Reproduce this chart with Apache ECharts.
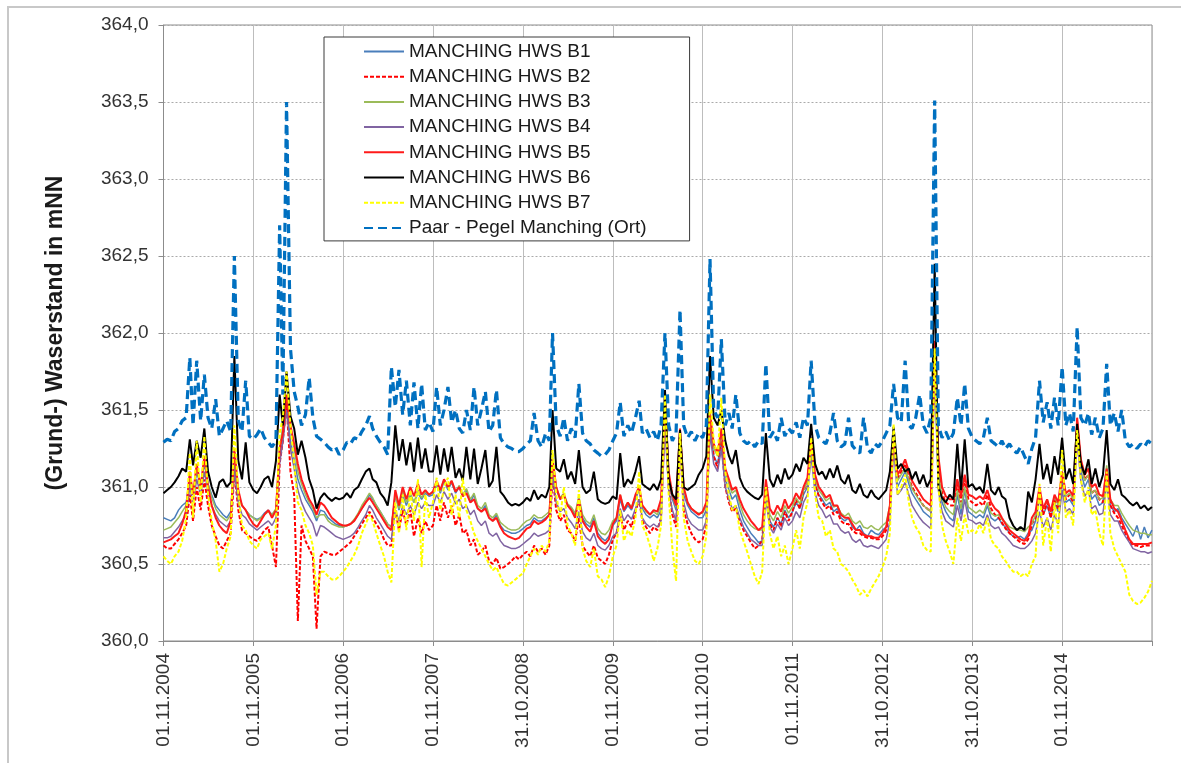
<!DOCTYPE html>
<html><head><meta charset="utf-8">
<script src="https://cdn.jsdelivr.net/npm/echarts@6/dist/echarts.min.js"></script>
<style>html,body{margin:0;padding:0;background:#fff}#c{width:1181px;height:763px}</style>
</head><body><div id="c"></div>
<script>
// x tick labels (one per axis tick, every 365.2 days from 01.11.2004)
const tickLabels = ['01.11.2004','01.11.2005','01.11.2006','01.11.2007','31.10.2008','01.11.2009','01.11.2010','01.11.2011','31.10.2012','31.10.2013','01.11.2014'];
const seriesNames = ['MANCHING HWS B1','MANCHING HWS B2','MANCHING HWS B3','MANCHING HWS B4','MANCHING HWS B5','MANCHING HWS B6','MANCHING HWS B7','Paar - Pegel Manching (Ort)'];

// sampling dates: 1st and 16th of every month, 01.11.2004 .. 01.11.2015
const sampleDates = [];
for (let i = 0; i < 265; i++) { sampleDates.push(Date.UTC(2004, 10 + Math.floor(i / 2), i % 2 ? 16 : 1)); }

// values (mNN), one per sample date; rows = hydrological years Nov..Oct
const b1 = [
360.80,360.79,360.78,360.80,360.85,360.88,360.90,361.05,360.95,361.10,361.00,361.15,361.02,360.95,360.88,360.85,360.82,360.80,360.84,361.15,360.95,360.88,360.85,360.82,
360.80,360.79,360.80,360.83,360.85,360.82,360.85,361.20,361.30,361.55,361.30,361.18,361.05,360.98,360.92,360.88,360.84,360.78,360.85,360.84,360.80,360.78,360.76,360.75,
360.74,360.75,360.76,360.78,360.82,360.86,360.90,360.95,360.92,360.88,360.84,360.80,360.76,360.74,360.95,360.85,360.95,360.88,360.95,360.90,360.96,360.92,360.96,360.94,
360.95,361.02,360.96,361.04,360.98,361.03,360.96,361.00,360.94,360.98,360.90,360.95,360.86,360.84,360.88,360.80,360.78,360.82,360.75,360.72,360.71,360.70,360.70,360.71,
360.73,360.75,360.76,360.80,360.78,360.78,360.80,360.82,361.15,360.98,360.92,360.95,360.88,360.86,360.82,360.92,360.80,360.76,360.74,360.80,360.70,360.67,360.65,360.68,
360.75,360.78,360.92,360.84,360.88,360.85,360.92,360.98,360.86,360.82,360.80,360.82,360.80,360.85,361.45,361.05,360.92,360.85,361.30,360.95,360.88,360.84,360.82,360.80,
360.80,360.85,361.40,361.20,361.15,361.30,361.05,360.98,360.92,360.95,360.85,360.78,360.74,360.70,360.67,360.64,360.65,360.95,360.78,360.74,360.80,360.76,360.85,360.80,
360.84,360.90,360.86,360.95,361.00,361.25,361.02,360.95,360.92,360.88,360.90,360.84,360.86,360.80,360.78,360.80,360.74,360.72,360.75,360.70,360.68,360.72,360.70,360.69,
360.72,360.74,360.85,361.30,361.00,361.05,361.10,361.02,360.96,360.92,360.88,360.84,360.82,360.80,361.80,361.05,360.90,360.84,360.80,360.78,360.95,360.82,360.98,360.84,
360.82,360.80,360.82,360.80,360.88,360.80,360.78,360.80,360.76,360.74,360.70,360.68,360.67,360.68,360.66,360.70,360.72,360.78,360.92,360.82,360.88,360.80,360.90,360.84,
361.05,360.90,360.92,360.88,361.38,361.10,361.00,361.05,360.92,360.95,360.88,360.90,361.10,360.88,360.84,360.86,360.80,360.76,360.72,360.68,360.75,360.66,360.74,360.67,360.72];

const b2 = [
360.62,360.60,360.60,360.63,360.66,360.70,360.75,360.95,360.78,361.00,360.85,361.05,360.88,360.75,360.68,360.62,360.60,360.65,360.70,361.10,360.85,360.72,360.70,360.68,
360.66,360.65,360.68,360.72,360.74,360.62,360.48,361.15,361.30,361.55,361.10,360.95,360.13,360.75,360.65,360.60,360.55,360.08,360.55,360.58,360.57,360.56,360.56,360.58,
360.60,360.62,360.64,360.68,360.72,360.76,360.80,360.84,360.80,360.76,360.72,360.66,360.62,360.62,360.85,360.72,360.85,360.75,360.85,360.68,360.80,360.70,360.78,360.72,
360.75,360.88,360.78,360.90,360.80,360.88,360.75,360.82,360.70,360.72,360.62,360.66,360.56,360.58,360.62,360.52,360.50,360.54,360.47,360.48,360.50,360.52,360.55,360.53,
360.56,360.58,360.55,360.62,360.58,360.60,360.56,360.62,361.08,360.85,360.78,360.82,360.72,360.70,360.65,360.80,360.62,360.58,360.55,360.62,360.54,360.52,360.50,360.56,
360.66,360.70,360.82,360.72,360.78,360.74,360.84,360.92,360.78,360.74,360.70,360.74,360.72,360.80,361.50,361.00,360.82,360.74,361.30,360.85,360.76,360.70,360.66,360.64,
360.66,360.75,361.45,361.20,361.12,361.30,361.00,360.90,360.84,360.86,360.78,360.72,360.68,360.64,360.60,360.62,360.65,360.98,360.76,360.72,360.80,360.74,360.84,360.78,
360.84,360.92,360.86,360.98,361.02,361.30,361.02,360.94,360.90,360.86,360.88,360.82,360.84,360.78,360.76,360.76,360.72,360.70,360.70,360.68,360.67,360.67,360.66,360.66,
360.68,360.72,360.85,361.32,361.05,361.10,361.15,361.06,361.00,360.96,360.92,360.88,360.86,360.84,361.90,361.15,360.96,360.90,360.88,360.88,361.02,360.90,361.05,360.92,
360.90,360.88,360.90,360.88,360.95,360.86,360.82,360.80,360.77,360.73,360.70,360.68,360.66,360.64,360.63,360.66,360.76,360.80,360.96,360.82,360.90,360.80,360.92,360.86,
361.06,360.92,360.95,360.90,361.42,361.15,361.05,361.08,360.96,360.98,360.92,360.90,361.08,360.88,360.83,360.80,360.75,360.70,360.65,360.62,360.62,360.61,360.62,360.62,360.62];

const b3 = [
360.72,360.73,360.74,360.77,360.80,360.84,360.88,361.05,360.95,361.12,361.00,361.18,361.02,360.93,360.86,360.82,360.80,360.78,360.82,361.20,360.96,360.88,360.85,360.82,
360.80,360.78,360.80,360.82,360.84,360.82,360.86,361.25,361.40,361.70,361.38,361.25,361.10,361.02,360.95,360.90,360.86,360.80,360.82,360.82,360.78,360.76,360.75,360.74,
360.74,360.75,360.76,360.79,360.83,360.88,360.92,360.96,360.93,360.88,360.84,360.80,360.76,360.74,360.95,360.86,360.98,360.90,360.96,360.90,360.98,360.93,360.97,360.95,
360.96,361.03,360.97,361.05,360.99,361.04,360.97,361.01,360.95,360.99,360.92,360.96,360.88,360.86,360.90,360.82,360.80,360.83,360.77,360.75,360.73,360.72,360.72,360.73,
360.76,360.78,360.79,360.82,360.80,360.80,360.82,360.84,361.20,361.00,360.93,360.96,360.89,360.87,360.83,360.94,360.82,360.78,360.76,360.82,360.73,360.70,360.69,360.72,
360.78,360.80,360.95,360.86,360.90,360.87,360.94,361.00,360.88,360.84,360.82,360.84,360.82,360.88,361.50,361.08,360.94,360.87,361.35,360.98,360.90,360.86,360.84,360.83,
360.83,360.88,361.45,361.25,361.20,361.35,361.10,361.02,360.96,360.98,360.89,360.82,360.78,360.75,360.73,360.72,360.72,361.00,360.82,360.78,360.84,360.80,360.88,360.83,
360.87,360.93,360.89,360.98,361.03,361.30,361.05,360.98,360.95,360.91,360.93,360.87,360.88,360.83,360.81,360.83,360.78,360.76,360.78,360.74,360.73,360.75,360.73,360.72,
360.75,360.77,360.88,361.33,361.04,361.08,361.12,361.05,360.99,360.95,360.91,360.88,360.86,360.84,361.85,361.10,360.93,360.87,360.84,360.82,360.98,360.86,361.00,360.87,
360.85,360.83,360.85,360.83,360.90,360.83,360.81,360.82,360.79,360.77,360.74,360.73,360.72,360.72,360.71,360.74,360.76,360.82,360.96,360.86,360.92,360.84,360.94,360.88,
361.10,360.94,360.96,360.92,361.42,361.15,361.04,361.08,360.96,360.98,360.92,360.93,361.14,360.92,360.88,360.88,360.83,360.79,360.75,360.72,360.71,360.70,360.70,360.69,360.69];

const b4 = [
360.67,360.67,360.68,360.71,360.74,360.78,360.82,361.00,360.90,361.05,360.95,361.10,360.97,360.88,360.82,360.78,360.76,360.74,360.78,361.10,360.90,360.82,360.80,360.76,
360.74,360.72,360.74,360.76,360.78,360.75,360.80,361.15,361.30,361.50,361.25,361.12,360.98,360.90,360.84,360.80,360.76,360.68,360.75,360.74,360.72,360.70,360.68,360.67,
360.66,360.67,360.68,360.70,360.74,360.78,360.82,360.88,360.85,360.80,360.76,360.72,360.68,360.66,360.85,360.78,360.88,360.82,360.88,360.82,360.90,360.86,360.90,360.88,
360.88,360.95,360.90,360.97,360.92,360.96,360.89,360.92,360.86,360.88,360.82,360.85,360.78,360.75,360.78,360.70,360.68,360.70,360.65,360.62,360.61,360.60,360.60,360.61,
360.63,360.65,360.67,360.70,360.68,360.69,360.70,360.72,361.08,360.90,360.84,360.86,360.80,360.77,360.73,360.84,360.71,360.67,360.65,360.70,360.62,360.60,360.59,360.62,
360.68,360.70,360.86,360.78,360.82,360.79,360.86,360.92,360.80,360.76,360.74,360.76,360.74,360.78,361.38,360.98,360.85,360.78,361.25,360.90,360.80,360.76,360.74,360.72,
360.72,360.78,361.35,361.15,361.10,361.25,361.00,360.92,360.86,360.88,360.80,360.74,360.70,360.66,360.64,360.62,360.62,360.92,360.74,360.70,360.76,360.72,360.80,360.75,
360.78,360.84,360.80,360.90,360.95,361.20,360.96,360.88,360.85,360.80,360.82,360.76,360.76,360.72,360.70,360.71,360.66,360.64,360.66,360.62,360.61,360.62,360.61,360.60,
360.63,360.66,360.78,361.25,360.95,360.98,361.03,360.95,360.88,360.84,360.80,360.77,360.75,360.73,361.75,360.98,360.84,360.78,360.76,360.74,360.88,360.78,360.92,360.79,
360.78,360.76,360.77,360.75,360.82,360.75,360.73,360.74,360.70,360.68,360.65,360.62,360.61,360.60,360.60,360.62,360.65,360.70,360.84,360.74,360.80,360.72,360.82,360.76,
360.98,360.84,360.86,360.82,361.30,361.04,360.94,360.98,360.86,360.88,360.82,360.83,361.02,360.82,360.78,360.78,360.72,360.68,360.64,360.60,360.59,360.58,360.58,360.57,360.58];

const b5 = [
360.64,360.65,360.66,360.68,360.70,360.76,360.85,361.10,360.95,361.15,361.00,361.20,361.00,360.88,360.80,360.75,360.72,360.70,360.78,361.25,360.98,360.88,360.85,360.80,
360.76,360.74,360.78,360.82,360.85,360.80,360.85,361.25,361.35,361.60,361.40,361.28,361.15,361.05,360.98,360.92,360.88,360.82,360.90,360.88,360.84,360.80,360.78,360.76,
360.75,360.75,360.76,360.78,360.82,360.86,360.90,360.93,360.90,360.86,360.82,360.78,360.74,360.72,360.98,360.88,361.00,360.92,361.00,360.94,361.02,360.95,360.98,360.95,
360.97,361.04,360.98,361.05,361.00,361.04,360.97,361.00,360.94,360.96,360.90,360.92,360.86,360.84,360.86,360.80,360.78,360.80,360.74,360.70,360.68,360.67,360.66,360.67,
360.70,360.73,360.74,360.78,360.76,360.77,360.79,360.82,361.18,361.00,360.92,360.95,360.88,360.85,360.80,360.92,360.78,360.74,360.71,360.78,360.68,360.65,360.63,360.66,
360.76,360.80,360.95,360.85,360.90,360.86,360.95,361.00,360.88,360.85,360.82,360.85,360.84,360.92,361.55,361.10,360.95,360.88,361.38,361.00,360.90,360.86,360.84,360.82,
360.84,360.90,361.48,361.28,361.22,361.38,361.12,361.05,360.98,361.00,360.92,360.86,360.82,360.78,360.75,360.72,360.74,361.05,360.86,360.82,360.88,360.84,360.92,360.86,
360.90,360.96,360.92,361.00,361.06,361.32,361.08,361.00,360.97,360.93,360.95,360.88,360.88,360.82,360.80,360.80,360.76,360.72,360.72,360.69,360.68,360.68,360.67,360.67,
360.70,360.74,360.88,361.35,361.08,361.12,361.18,361.10,361.04,361.00,360.96,360.92,360.90,360.88,361.95,361.20,361.00,360.94,360.92,360.92,361.05,360.94,361.08,360.95,
360.94,360.92,360.94,360.92,360.98,360.90,360.86,360.84,360.80,360.76,360.72,360.70,360.68,360.66,360.65,360.68,360.80,360.84,361.00,360.86,360.92,360.84,360.95,360.90,
361.10,360.96,360.98,360.94,361.45,361.18,361.08,361.12,361.00,361.02,360.95,360.94,361.12,360.92,360.86,360.84,360.78,360.72,360.66,360.63,360.63,360.63,360.63,360.63,360.64];

const b6 = [
360.96,360.98,361.00,361.03,361.07,361.12,361.10,361.31,361.14,361.30,361.19,361.38,361.10,361.00,360.93,361.03,361.05,361.00,361.03,361.85,361.17,361.05,361.29,361.03,
360.98,360.96,361.00,361.05,361.07,361.00,361.17,361.60,361.40,361.75,361.46,361.38,361.21,361.30,361.19,361.05,360.98,360.86,360.93,360.96,360.93,360.91,360.93,360.92,
360.93,360.96,360.93,360.98,361.00,361.05,361.10,361.12,361.05,361.03,360.96,360.93,360.88,361.03,361.40,361.17,361.31,361.14,361.29,361.10,361.32,361.12,361.25,361.10,
361.10,361.27,361.08,361.25,361.10,361.26,361.06,361.12,361.04,361.26,361.05,361.25,361.02,361.12,361.24,361.00,361.04,361.26,360.97,360.94,360.90,360.88,360.89,360.88,
360.90,360.93,360.91,360.98,360.92,360.95,360.93,361.00,361.50,361.12,361.10,361.18,361.05,361.10,361.02,361.24,361.00,360.96,360.98,361.10,360.92,360.90,360.89,360.90,
360.94,360.92,361.22,361.00,361.05,361.02,361.10,361.20,361.02,361.00,360.98,361.02,360.98,361.05,361.63,361.05,360.95,360.92,361.37,361.00,360.98,361.00,361.02,361.08,
361.12,361.20,361.85,361.45,361.40,361.50,361.30,361.20,361.15,361.24,361.06,361.00,360.97,360.95,360.93,360.92,360.95,361.35,361.05,361.00,361.08,361.02,361.12,361.05,
361.08,361.15,361.10,361.19,361.15,361.41,361.15,361.08,361.10,361.05,361.12,361.06,361.14,361.05,361.02,361.08,360.98,360.96,361.02,360.95,360.93,360.98,360.94,360.92,
360.95,360.98,361.10,361.39,361.12,361.15,361.10,361.12,361.05,361.10,361.02,361.08,361.00,361.05,362.45,361.00,360.93,360.90,360.95,360.92,361.28,360.98,361.31,361.00,
361.02,360.98,361.00,360.96,361.15,360.98,360.95,361.00,360.94,360.92,360.80,360.75,360.72,360.74,360.72,360.97,360.90,361.05,361.28,361.05,361.15,361.02,361.20,361.08,
361.32,361.05,361.12,361.02,361.41,361.15,361.08,361.18,361.02,361.12,361.00,361.08,361.37,361.02,360.98,361.05,360.95,360.93,360.90,360.88,360.90,360.86,360.88,360.85,360.87];

const b7 = [
360.55,360.52,360.50,360.55,360.58,360.65,360.80,361.22,360.80,361.30,360.90,361.33,360.95,360.78,360.65,360.45,360.50,360.60,360.68,361.40,360.95,360.75,360.72,360.65,
360.62,360.60,360.66,360.68,360.70,360.60,360.75,361.35,361.45,361.75,361.40,361.15,360.90,360.85,360.75,360.70,360.62,360.30,360.45,360.45,360.42,360.40,360.40,360.42,
360.45,360.48,360.52,360.56,360.62,360.70,360.76,360.82,360.78,360.70,360.62,360.55,360.45,360.38,360.90,360.70,360.95,360.72,360.98,360.78,361.05,360.48,360.95,360.80,
360.90,361.06,360.85,361.00,361.06,360.82,360.95,360.80,361.06,360.85,360.78,360.70,360.65,360.60,360.55,360.50,360.46,360.48,360.42,360.37,360.36,360.38,360.40,360.42,
360.44,360.50,360.55,360.60,360.56,360.62,360.58,360.65,361.24,360.95,360.80,361.00,360.75,360.70,360.62,360.98,360.60,360.52,360.48,360.60,360.42,360.40,360.35,360.42,
360.55,360.62,360.85,360.65,360.72,360.68,360.80,361.10,360.75,360.70,360.62,360.52,360.60,360.75,361.60,360.95,360.60,360.39,361.35,360.80,360.65,360.58,360.52,360.50,
360.55,360.68,361.60,361.30,361.20,361.58,361.10,360.95,360.85,360.88,360.72,360.65,360.58,360.50,360.42,360.37,360.45,361.00,360.70,360.60,360.68,360.55,360.62,360.50,
360.60,360.72,360.60,360.80,360.90,361.32,360.95,360.80,360.78,360.68,360.72,360.60,360.58,360.50,360.48,360.45,360.40,360.36,360.30,360.33,360.29,360.34,360.38,360.42,
360.48,360.55,360.70,361.41,360.95,361.00,361.08,360.90,360.80,360.74,360.70,360.62,360.59,360.58,361.90,361.00,360.75,360.65,360.58,360.50,360.80,360.65,360.82,360.70,
360.72,360.70,360.76,360.70,360.80,360.66,360.62,360.60,360.55,360.52,360.48,360.45,360.45,360.42,360.44,360.42,360.50,360.55,361.02,360.62,360.80,360.58,360.90,360.70,
361.24,360.80,360.85,360.75,361.37,361.05,360.90,361.00,360.82,360.85,360.70,360.62,361.10,360.70,360.60,360.55,360.50,360.45,360.30,360.26,360.24,360.25,360.28,360.32,360.39];

const paar = [
361.29,361.31,361.30,361.36,361.38,361.43,361.45,361.84,361.40,361.82,361.43,361.73,361.45,361.38,361.57,361.33,361.38,361.43,361.36,362.50,361.43,361.36,361.69,361.33,
361.31,361.34,361.38,361.32,361.29,361.26,361.30,362.70,361.60,363.50,361.90,361.62,361.52,361.40,361.47,361.71,361.45,361.33,361.31,361.29,361.26,361.24,361.26,361.21,
361.24,361.29,361.28,361.32,361.31,361.36,361.40,361.46,361.38,361.33,361.29,361.26,361.21,361.78,361.52,361.76,361.47,361.69,361.40,361.68,361.38,361.67,361.37,361.42,
361.36,361.65,361.40,361.50,361.65,361.42,361.50,361.38,361.35,361.50,361.37,361.65,361.40,361.50,361.62,361.36,361.40,361.63,361.32,361.28,361.26,361.25,361.23,361.23,
361.25,361.28,361.30,361.48,361.30,361.26,361.35,361.30,362.00,361.40,361.33,361.45,361.30,361.38,361.32,361.67,361.35,361.30,361.28,361.24,361.22,361.20,361.21,361.24,
361.30,361.35,361.55,361.33,361.40,361.35,361.45,361.56,361.35,361.38,361.32,361.36,361.30,361.40,362.00,361.40,361.30,361.35,362.15,361.40,361.32,361.36,361.30,361.35,
361.32,361.40,362.48,361.50,361.45,361.96,361.40,361.48,361.38,361.60,361.35,361.30,361.28,361.30,361.26,361.30,361.28,361.80,361.32,361.36,361.30,361.45,361.33,361.38,
361.35,361.42,361.32,361.45,361.40,361.82,361.40,361.32,361.30,361.28,361.35,361.48,361.30,361.26,361.28,361.45,361.27,361.24,361.22,361.45,361.25,361.22,361.28,361.26,
361.30,361.35,361.40,361.67,361.45,361.42,361.82,361.40,361.38,361.45,361.60,361.40,361.35,361.45,363.51,361.40,361.32,361.36,361.30,361.35,361.58,361.40,361.67,361.38,
361.32,361.30,361.28,361.32,361.45,361.30,361.28,361.26,361.30,361.25,361.28,361.24,361.22,361.26,361.20,361.15,361.25,361.32,361.69,361.42,361.55,361.38,361.58,361.40,
361.78,361.40,361.48,361.36,362.04,361.45,361.40,361.48,361.34,361.45,361.32,361.38,361.80,361.40,361.48,361.36,361.50,361.30,361.26,361.28,361.25,361.28,361.26,361.30,361.28];

const seriesValues = [b1, b2, b3, b4, b5, b6, b7, paar];
const seriesColors = ['#4a7ebb', '#ff0000', '#9bbb59', '#8064a2', '#ff1a1a', '#000000', '#ffff00', '#0070c0'];
const seriesWidths = [1.5, 2, 1.5, 1.5, 2, 2, 2, 3.2];
const seriesDash = ['solid', [4, 2], 'solid', 'solid', 'solid', 'solid', [4, 2], [9, 5]];

const DAY = 86400000;
const t0 = sampleDates[0];
const STEP = 365.2;
const FONT = '"Liberation Sans", Arial, Helvetica, sans-serif';

const chart = echarts.init(document.getElementById('c'), null, {renderer: 'canvas'});
chart.setOption({
  animation: false,
  backgroundColor: '#fff',
  textStyle: {fontFamily: FONT},
  graphic: [{type: 'rect', z: -10, shape: {x: 8, y: 7, width: 1300, height: 900},
    style: {fill: 'none', stroke: '#c8c8c8', lineWidth: 2}}],
  grid: {left: 163.5, right: 29, top: 25, bottom: 122, show: true, borderColor: '#8c8c8c', borderWidth: 1},
  xAxis: {
    type: 'value', min: 0, max: STEP * 11, interval: STEP,
    axisLine: {show: true, lineStyle: {color: '#8c8c8c'}},
    axisTick: {show: true, length: 5, lineStyle: {color: '#8c8c8c'}},
    axisLabel: {rotate: 90, fontSize: 19, color: '#333', margin: 12, fontFamily: FONT,
      formatter: v => tickLabels[Math.round(v / STEP)] || ''},
    splitLine: {show: true, lineStyle: {color: '#bdbdbd', width: 1}}
  },
  yAxis: {
    type: 'value', min: 360, max: 364, interval: 0.5,
    name: '(Grund-) Waserstand in mNN', nameLocation: 'middle', nameGap: 96,
    nameTextStyle: {fontSize: 23, fontWeight: 'bold', color: '#1a1a1a', fontFamily: FONT},
    axisLine: {show: true, lineStyle: {color: '#8c8c8c'}},
    axisTick: {show: true, length: 5, lineStyle: {color: '#8c8c8c'}},
    axisLabel: {fontSize: 19, color: '#333', margin: 15, fontFamily: FONT,
      formatter: v => v.toFixed(1).replace('.', ',')},
    splitLine: {show: true, lineStyle: {color: '#aaaaaa', type: [2, 2], width: 1}}
  },
  legend: {
    orient: 'vertical', left: 324, top: 37, itemWidth: 40, itemHeight: 14, itemGap: 6.2,
    padding: [5, 43, 3.5, 39], backgroundColor: '#fff', borderColor: '#3a3a3a', borderWidth: 1,
    itemStyle: {opacity: 0},
    textStyle: {fontSize: 19, color: '#1a1a1a', fontFamily: FONT},
    data: seriesNames
  },
  series: seriesNames.map((name, k) => ({
    name: name, type: 'line', symbol: 'none', showSymbol: false, z: 2 + k,
    lineStyle: {color: seriesColors[k], width: seriesWidths[k], type: seriesDash[k]},
    itemStyle: {color: seriesColors[k]},
    data: sampleDates.map((t, i) => [(t - t0) / DAY, seriesValues[k][i]])
  }))
});
</script>
</body></html>
